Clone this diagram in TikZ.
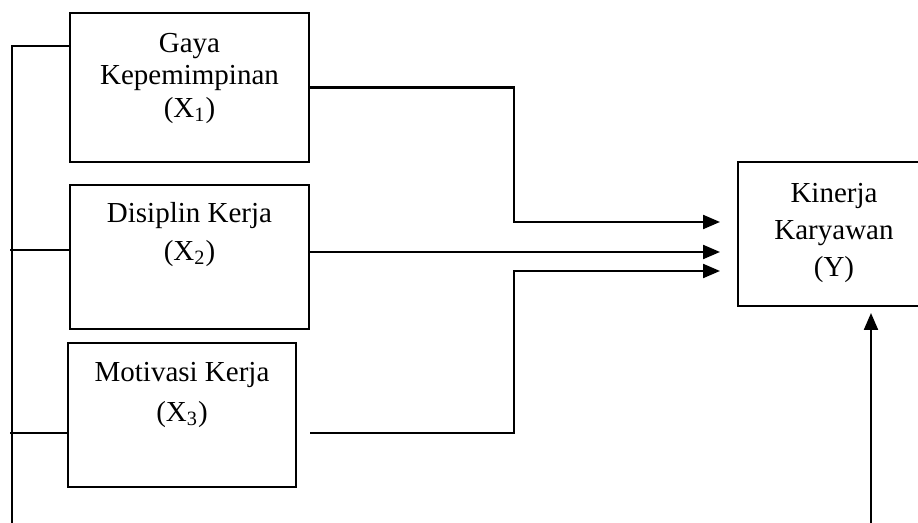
\documentclass[tikz,border=0pt]{standalone}
\usepackage{fontspec}
\setmainfont{Liberation Serif}
\usetikzlibrary{positioning,arrows.meta}

\begin{document}
\begin{tikzpicture}[x=0.5pt,y=-0.5pt,
  box/.style={draw,line width=1pt,inner sep=0pt},
  lbl/.style={align=center,font=\fontsize{14.5pt}{#1}\selectfont,inner sep=0pt},
  conn/.style={line width=1.1pt},
  arr/.style={line width=1.1pt,-{Triangle[length=8.5pt,width=7pt]}}]
\useasboundingbox (0,0) rectangle (918,523);
% boxes
\node[box,minimum width=119.5pt,minimum height=74.5pt] (x1) at (189.5,87.5) {};
\node[box,minimum width=119.5pt,minimum height=72pt] (x2) at (189.5,257) {};
\node[box,minimum width=114pt,minimum height=72pt] (x3) at (182,415) {};
\node[box,minimum width=96pt,minimum height=72pt] (y) at (834,234) {};
\node[lbl=16.2pt,below=10.5pt of x1.north] (tx1) {Gaya\\Kepemimpinan\\(X\textsubscript{1})};
\node[lbl=19pt,below=9pt of x2.north] (tx2) {Disiplin Kerja\\(X\textsubscript{2})};
\node[lbl=20pt,below=10pt of x3.north] (tx3) {Motivasi Kerja\\(X\textsubscript{3})};
\node[lbl=18.5pt,below=11pt of y.north] (ty) {Kinerja\\Karyawan\\(Y)};
% points
\coordinate (t1) at (720,222);
\coordinate (t2) at (720,252);
\coordinate (t3) at (720,271);
\coordinate (k1) at (514,87.5);
\coordinate (k3) at (514,433);
\coordinate (s3) at (310,433);
\coordinate (bt) at (12,46);
\coordinate (bb) at (12,523);
\coordinate (l2) at (10,250);
\coordinate (l3) at (10,433);
\coordinate (yb) at (871,523);
\coordinate (yt) at (871,313);
% arrows to Y
\draw[arr] (x1.east) -- (k1) |- (t1);
\draw[arr] (x2.east |- t2) -- (t2);
\draw[arr] (s3) -- (k3) |- (t3);
\draw[arr] (yb) -- (yt);
% left line
\draw[conn] (bb) -- (bt) -- (bt -| x1.west);
\draw[conn] (l2) -- (l2 -| x2.west);
\draw[conn] (l3) -- (l3 -| x3.west);
\end{tikzpicture}
\end{document}
